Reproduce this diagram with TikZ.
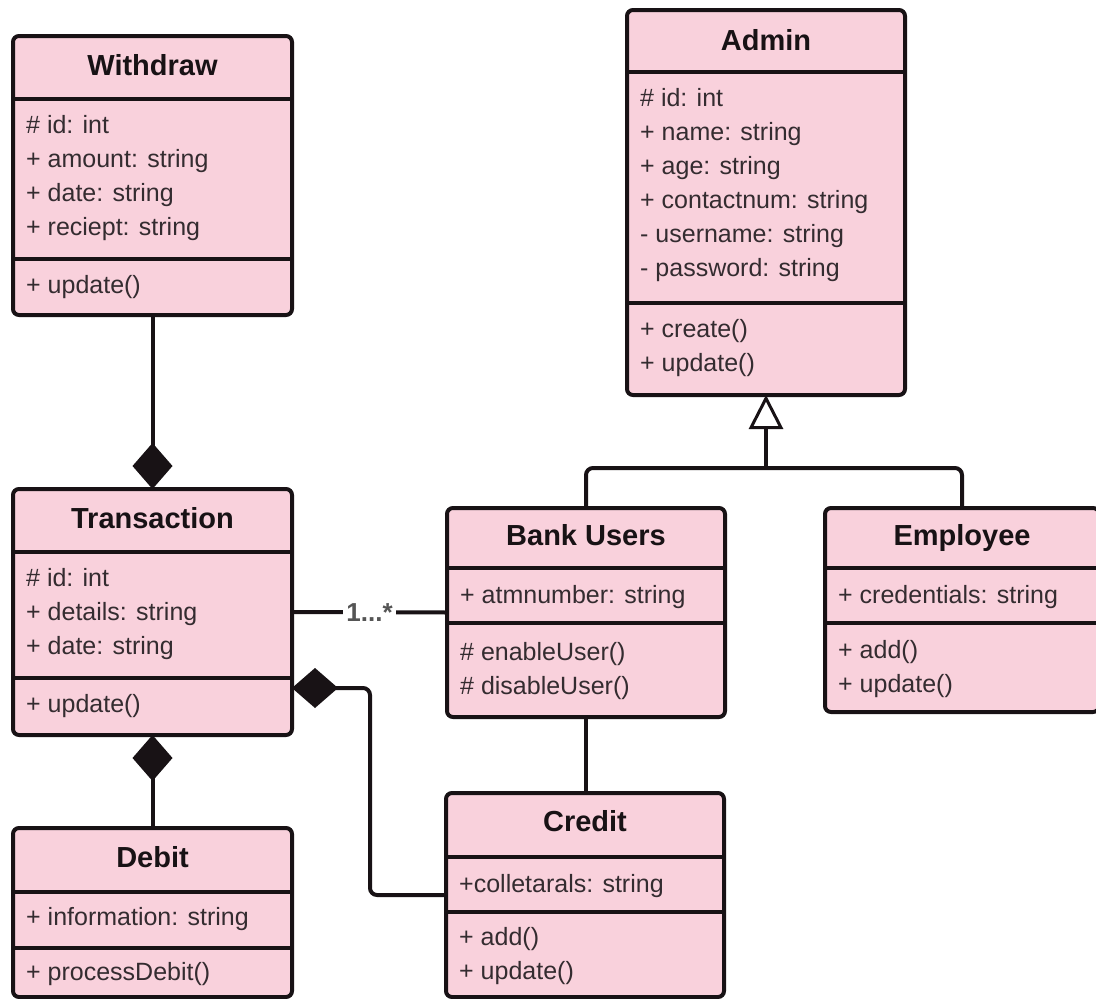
\documentclass[tikz,border=0pt]{standalone}
\usepackage{fontspec}
\setmainfont{Liberation Sans}
\usetikzlibrary{arrows.meta}
\definecolor{classfill}{RGB}{249,209,220}
\definecolor{ink}{RGB}{24,18,21}
\definecolor{membertext}{RGB}{52,44,48}
\definecolor{multtext}{RGB}{85,85,85}

% member lines of a class compartment: node, tag, first baseline below top, list
\newcommand{\classlines}[4]{%
  \foreach \m [count=\k from 0] in {#4}
    \node[member] (#1-#2\k) at ([xshift=13pt, yshift={-(#3+34*\k)}]#1.north west) {\m};}
% horizontal divider inside a class box, given its depth below the top
\newcommand{\classdivider}[2]{%
  \draw[divider] ([yshift=-#2pt]#1.north west) -- ([yshift=-#2pt]#1.north east);}

\begin{document}
\begin{tikzpicture}[x=1pt,y=-1pt,
  classbox/.style={draw=ink, fill=classfill, line width=4pt, rounded corners=6pt,
    inner sep=0pt, outer sep=0pt, anchor=north west},
  divider/.style={draw=ink, line width=4pt},
  title/.style={font=\fontsize{29}{34}\selectfont\bfseries, text=ink, inner sep=0pt, anchor=base},
  member/.style={font=\fontsize{25}{34}\selectfont, text=membertext, inner sep=0pt, anchor=base west},
  conn/.style={draw=ink, line width=4pt},
  comp/.style={conn, -{Diamond[length=46pt, width=40pt, fill=ink]}},
  gen/.style={conn, -{Triangle[open, length=34pt, width=34pt, line width=3pt, fill=white]}},
  mult/.style={font=\fontsize{26}{26}\selectfont\bfseries, text=multtext, fill=white,
    inner xsep=3pt, inner ysep=1pt}
]
\useasboundingbox[fill=white] (0,0) rectangle (1096,999);

% ---------- Withdraw ----------
\node[classbox, minimum width=279pt, minimum height=279pt] (withdraw) at (13,36) {};
\classdivider{withdraw}{63}
\classdivider{withdraw}{223}
\node[title] (withdraw-title) at ([yshift=-39pt]withdraw.north) {Withdraw};
\classlines{withdraw}{a}{97}{\# id: int, + amount: string, + date: string, + reciept: string}
\classlines{withdraw}{m}{257}{+ update()}

% ---------- Admin ----------
\node[classbox, minimum width=278pt, minimum height=385pt] (admin) at (627,10) {};
\classdivider{admin}{62}
\classdivider{admin}{293}
\node[title] (admin-title) at ([yshift=-40pt]admin.north) {Admin};
\classlines{admin}{a}{96}{\# id: int, + name: string, + age: string, + contactnum: string, - username: string, - password: string}
\classlines{admin}{m}{327}{+ create(), + update()}

% ---------- Transaction ----------
\node[classbox, minimum width=279pt, minimum height=246pt] (trans) at (13,489) {};
\classdivider{trans}{63}
\classdivider{trans}{189}
\node[title] (trans-title) at ([yshift=-39pt]trans.north) {Transaction};
\classlines{trans}{a}{97}{\# id: int, + details: string, + date: string}
\classlines{trans}{m}{223}{+ update()}

% ---------- Bank Users ----------
\node[classbox, minimum width=278pt, minimum height=209pt] (bank) at (447,508) {};
\classdivider{bank}{60}
\classdivider{bank}{115}
\node[title] (bank-title) at ([yshift=-37pt]bank.north) {Bank Users};
\classlines{bank}{a}{95}{+ atmnumber: string}
\classlines{bank}{m}{152}{\# enableUser(), \# disableUser()}

% ---------- Employee ----------
\node[classbox, minimum width=274pt, minimum height=204pt] (emp) at (825,508) {};
\classdivider{emp}{60}
\classdivider{emp}{115}
\node[title] (emp-title) at ([yshift=-37pt]emp.north) {Employee};
\classlines{emp}{a}{95}{+ credentials: string}
\classlines{emp}{m}{150}{+ add(), + update()}

% ---------- Credit ----------
\node[classbox, minimum width=278pt, minimum height=204pt] (credit) at (446,793) {};
\classdivider{credit}{64}
\classdivider{credit}{119}
\node[title] (credit-title) at ([yshift=-38pt]credit.north) {Credit};
\classlines{credit}{a}{99}{+colletarals: string}
\classlines{credit}{m}{152}{+ add(), + update()}

% ---------- Debit ----------
\node[classbox, minimum width=279pt, minimum height=169pt] (debit) at (13,828) {};
\classdivider{debit}{64}
\classdivider{debit}{120}
\node[title] (debit-title) at ([yshift=-39pt]debit.north) {Debit};
\classlines{debit}{a}{97}{+ information: string}
\classlines{debit}{m}{152}{+ processDebit()}

% ---------- Connectors ----------
\coordinate (bar) at (0,468);
\coordinate (col) at (370,0);
\coordinate (tport) at ([yshift=-76pt]trans.east);

% compositions into Transaction
\draw[comp] (withdraw.south) -- (trans.north);
\draw[comp] (debit.north) -- (trans.south);
\draw[comp, rounded corners=7pt] (credit.west) -| (tport -| col) -- (tport);

% association Transaction -- Bank Users
\draw[conn] (trans.east) -- node[mult] (mult) {1...*} (bank.west);

% generalization Bank Users / Employee -> Admin
\draw[conn, rounded corners=7pt] (bank.north) |- (bar -| emp.north) -- (emp.north);
\draw[gen] (admin.south |- bar) -- (admin.south);

% Bank Users -- Credit
\draw[conn] (bank.south) -- (bank.south |- credit.north);
\end{tikzpicture}
\end{document}
